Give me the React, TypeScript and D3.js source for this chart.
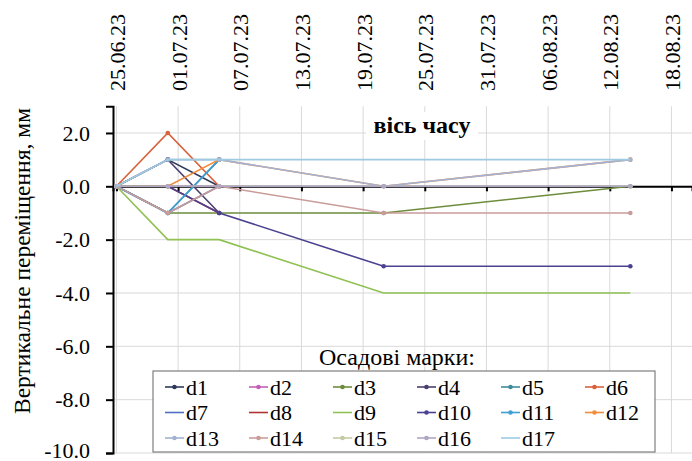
import { useEffect, useRef } from 'react';
import * as d3 from 'd3';

// дати вимірювань
const dates = ['25.06.23', '30.06.23', '05.07.23', '21.07.23', '14.08.23'];
// підписи вісі часу
const tickLabels = ['25.06.23', '01.07.23', '07.07.23', '13.07.23', '19.07.23', '25.07.23', '31.07.23', '06.08.23', '12.08.23', '18.08.23'];
const yTicks = [2, 0, -2, -4, -6, -8, -10];

// осадові марки, мм
const d1 = [0, 1, 0];
const d2 = [0, 0, 0];
const d3v = [0, -1, -1, -1, 0];
const d4 = [0, 1, -1];
const d5 = [0, -1, 1];
const d6 = [0, 2, 0];
const d7 = [0, -1, 0];
const d8 = [0, 0, -1];
const d9 = [0, -2, -2, -4, -4];
const d10 = [0, 0, -1, -3, -3];
const d11 = [0, -1, 1];
const d12 = [0, 0, 1, 0, 1];
const d13 = [0, 1, 1, 0, 1];
const d14 = [0, -1, 0, -1, -1];
const d15 = [0, 0, 0, 0, 0];
const d16 = [0, 0, 0, 0, 0];
const d17 = [0, 1, 1, 1, 1];

const names = ['d1', 'd2', 'd3', 'd4', 'd5', 'd6', 'd7', 'd8', 'd9', 'd10', 'd11', 'd12', 'd13', 'd14', 'd15', 'd16', 'd17'];
const values = [d1, d2, d3v, d4, d5, d6, d7, d8, d9, d10, d11, d12, d13, d14, d15, d16, d17];
const colors = ['#2e3a5c', '#c25fb8', '#6e8c3c', '#4b3f70', '#3f8c9e', '#d8613a',
  '#4e6fc2', '#b23232', '#8fc153', '#4a4290', '#3f9fd0', '#f08c3c',
  '#a3b2d2', '#c99c9a', '#c3cba5', '#aea6c2', '#9ecbe2'];
const noMarker = ['d7', 'd8', 'd9', 'd17'];

const W = 692;
const H = 461;
const FONT = 'Liberation Serif';

const App = () => {
  const svgRef = useRef<SVGSVGElement>(null);

  useEffect(() => {
    const parse = d3.timeParse('%d.%m.%y');
    const svg = d3.select(svgRef.current);
    svg.selectAll('*').remove();

    const x = d3.scaleTime()
      .domain([d3.timeHour.offset(parse(dates[0])!, -8), parse('20.08.23')!])
      .range([113, 692]);
    const y = d3.scaleLinear().domain([-10, 3]).range([453, 106.3]);
    const tickDates = tickLabels.map((t) => parse(t)!);
    const fmt = (v: number) => d3.format('.1f')(v).replace('−', '-');

    //сітка
    const grid = svg.append('g');
    grid.selectAll('.vg').data(tickDates).join('line')
      .attr('x1', (d) => x(d)).attr('x2', (d) => x(d))
      .attr('y1', y(3)).attr('y2', y(-10))
      .attr('stroke', '#d9d9d9').attr('stroke-width', 1);
    grid.selectAll('.hg').data(yTicks).join('line')
      .attr('x1', 113).attr('x2', W)
      .attr('y1', (d) => y(d)).attr('y2', (d) => y(d))
      .attr('stroke', '#d9d9d9').attr('stroke-width', 1);

    // підпис "вісь часу"
    svg.append('rect').attr('x', 366).attr('y', 112).attr('width', 112).attr('height', 28).attr('fill', 'white');
    svg.append('text').attr('x', 422).attr('y', 133).attr('text-anchor', 'middle')
      .attr('font-family', FONT).attr('font-weight', 'bold').attr('font-size', 24)
      .text('вісь часу');

    // вісь Y
    const gY = svg.append('g').attr('transform', 'translate(113,0)')
      .call(d3.axisLeft(y).tickValues(yTicks).tickFormat((d) => fmt(+d)).tickSize(7).tickPadding(16));
    gY.select('.domain').attr('stroke', '#000').attr('stroke-width', 2);
    gY.selectAll('.tick line').attr('stroke', '#000').attr('stroke-width', 2);
    gY.selectAll('text').attr('font-family', FONT).attr('font-size', 22).attr('fill', '#000');
    gY.selectAll<SVGTextElement, number>('text').filter((d) => d === -10).attr('dy', '0.2em');

    // вісь X на нулі
    const gX = svg.append('g').attr('transform', `translate(0,${y(0)})`)
      .call(d3.axisBottom(x).tickValues(tickDates).tickSize(5).tickFormat(() => ''));
    gX.select('.domain').attr('stroke', '#000').attr('stroke-width', 2);
    gX.selectAll('.tick line').attr('stroke', '#000').attr('stroke-width', 2);

    // підписи дат зверху
    svg.selectAll('.dl').data(tickDates).join('text')
      .attr('transform', (d) => `translate(${x(d) + 1},91) rotate(-90)`)
      .attr('dy', '0.35em')
      .attr('font-family', FONT).attr('font-size', 22)
      .text((d, i) => tickLabels[i]);

    // лінії
    const line = d3.line<number>()
      .x((d, i) => x(parse(dates[i])!))
      .y((d) => y(d));
    const gL = svg.append('g');
    values.forEach((vals, k) => {
      gL.append('path').attr('d', line(vals)!)
        .attr('fill', 'none').attr('stroke', colors[k]).attr('stroke-width', 1.6);
      if (!noMarker.includes(names[k])) {
        gL.selectAll(`.m${k}`).data(vals).join('circle')
          .attr('cx', (d, i) => x(parse(dates[i])!))
          .attr('cy', (d) => y(d))
          .attr('r', 2.3)
          .attr('fill', colors[k]);
      }
    });

    // назва вісі Y
    svg.append('text')
      .attr('transform', 'translate(22,261) rotate(-90)')
      .attr('text-anchor', 'middle').attr('dy', '0.35em')
      .attr('font-family', FONT).attr('font-size', 23.5)
      .text('Вертикальне переміщення, мм');

    // легенда
    svg.append('text').attr('x', 397).attr('y', 365).attr('text-anchor', 'middle')
      .attr('font-family', FONT).attr('font-size', 24).text('Осадові марки:');
    svg.append('rect').attr('x', 153).attr('y', 371).attr('width', 502).attr('height', 81)
      .attr('fill', 'white').attr('stroke', '#7f7f7f').attr('stroke-width', 1.2);
    const lg = svg.append('g');
    names.forEach((n, k) => {
      const cx = 165 + (k % 6) * 84;
      const cy = 387 + Math.floor(k / 6) * 25.5;
      lg.append('line').attr('x1', cx).attr('x2', cx + 19).attr('y1', cy).attr('y2', cy)
        .attr('stroke', colors[k]).attr('stroke-width', 1.6);
      if (!noMarker.includes(n)) {
        lg.append('circle').attr('cx', cx + 9.5).attr('cy', cy).attr('r', 2.3).attr('fill', colors[k]);
      }
      lg.append('text').attr('x', cx + 21).attr('y', cy).attr('dy', '0.35em')
        .attr('font-family', FONT).attr('font-size', 22).text(n);
    });
  }, []);

  return (
    <svg
      ref={svgRef}
      width={W}
      height={H}
      style={{ position: 'absolute', left: 0, top: 0, background: 'white', display: 'block' }}
    />
  );
};

export default App;
